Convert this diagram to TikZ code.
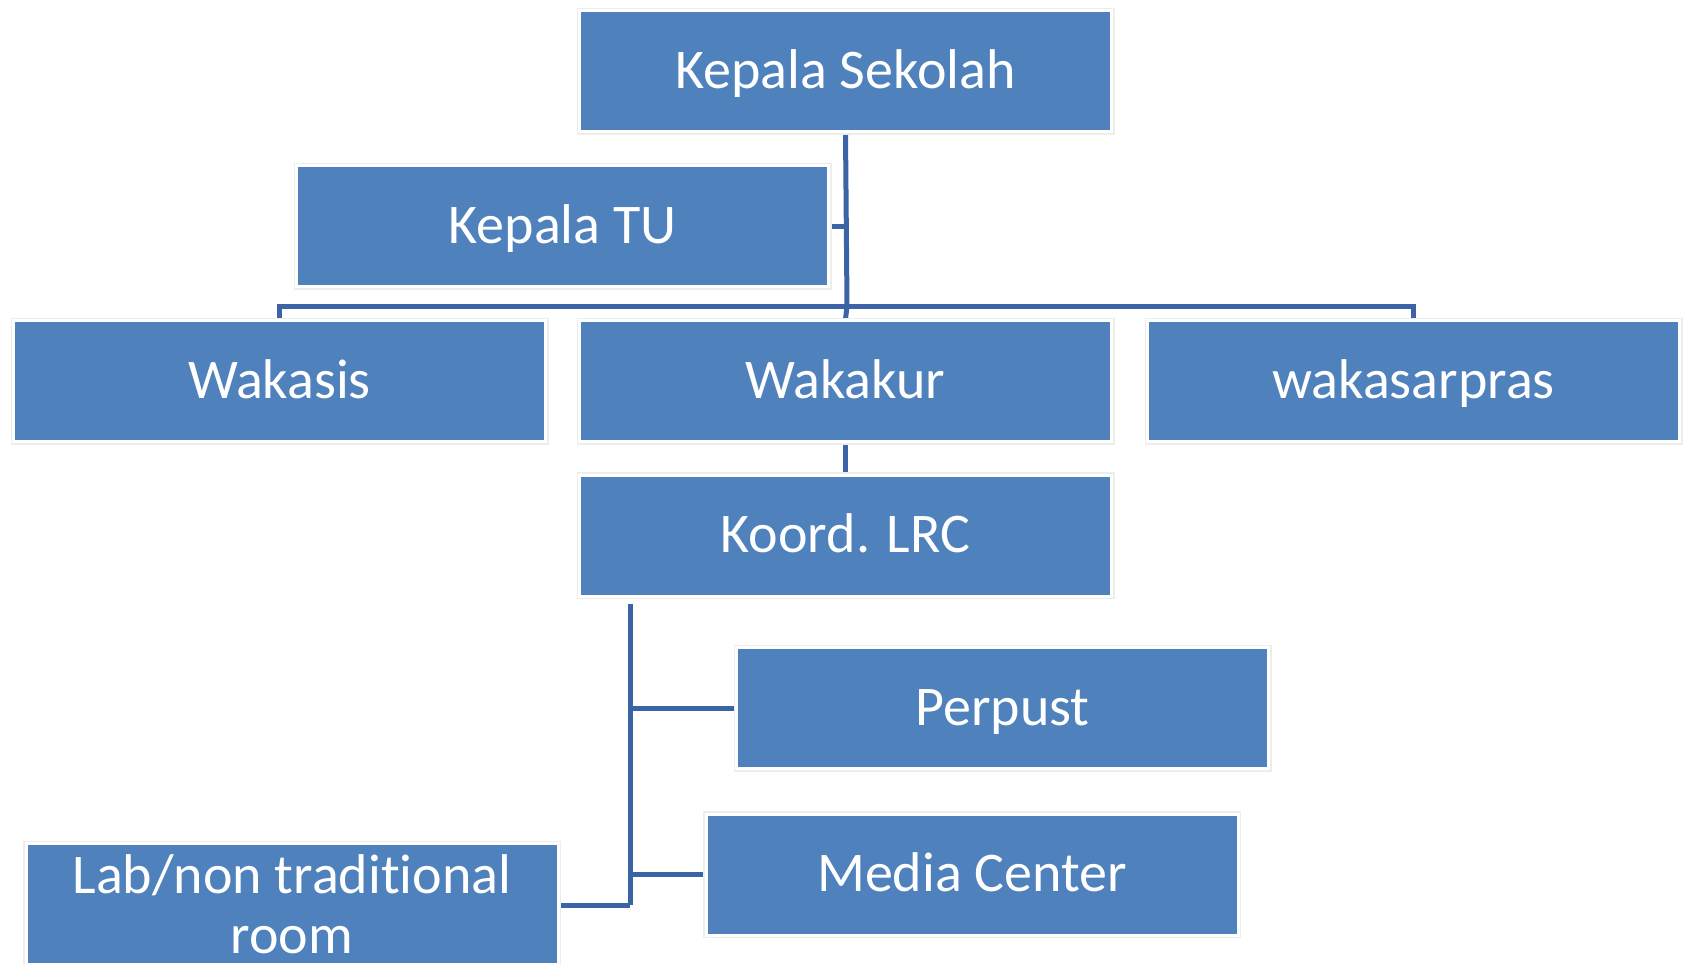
\documentclass[tikz,border=0pt]{standalone}
\usepackage{fontspec}
\setmainfont{Carlito}[Ligatures=NoCommon]
\usepackage{tikz}
\usetikzlibrary{backgrounds}
\definecolor{Kotak}{RGB}{79,129,189}
\definecolor{Garis}{RGB}{58,100,166}
\tikzset{
    unit/.style={fill=Kotak, draw=white, line width=3pt,
                 preaction={draw=black!7, line width=6pt},
                 minimum width=532pt, minimum height=121pt,
                 text height=40pt, text depth=6pt,
                 text=white, font=\fontsize{56}{60}\selectfont},
    link/.style={draw=Garis, line width=5pt}
}

\begin{document}
\begin{tikzpicture}[x=1pt, y=-1pt]
    \useasboundingbox (0,0) rectangle (1685,964);
    \coordinate (bar) at (847,306);
    \coordinate (lrcbar) at (630,604);
    \coordinate (tutick) at (847,226);
    \coordinate (labend) at (630,905);

    % boxes
    \node[unit] (ks) at (845.5,71) {Kepala Sekolah};
    \node[unit] (tu) at (562.5,226) {Kepala TU};
    \node[unit] (wks) at (279.5,381) {Wakasis};
    \node[unit] (wkk) at (845.5,381) {Wakakur};
    \node[unit] (wsp) at (1413.5,381) {wakasarpras};
    \node[unit] (lrc) at (845.5,535.5) {Koord. LRC};
    \node[unit] (perp) at (1002.5,708) {Perpust};
    \node[unit] (media) at (972,874.5) {Media Center};
    \node[unit, align=center, text height=, text depth=] (lab) at (292,904)
            {Lab/non traditional\\room};

    % connectors behind the boxes
    \begin{pgfonlayer}{background}
    \draw[link] (ks.south) -- (bar);
    \draw[link] (tu.east) -- (tutick);
    \draw[link] (wks.north) |- (bar) -| (wsp.north);
    \draw[link] (bar) -- (wkk.north);
    \draw[link] (wkk.south) -- (lrc.north);
    \draw[link] (lrcbar) -- (labend);
    \draw[link] (lrcbar |- perp.west) -- (perp.west);
    \draw[link] (lrcbar |- media.west) -- (media.west);
    \draw[link] (labend) -- (lab.east |- labend);
    \end{pgfonlayer}
\end{tikzpicture}
\end{document}
